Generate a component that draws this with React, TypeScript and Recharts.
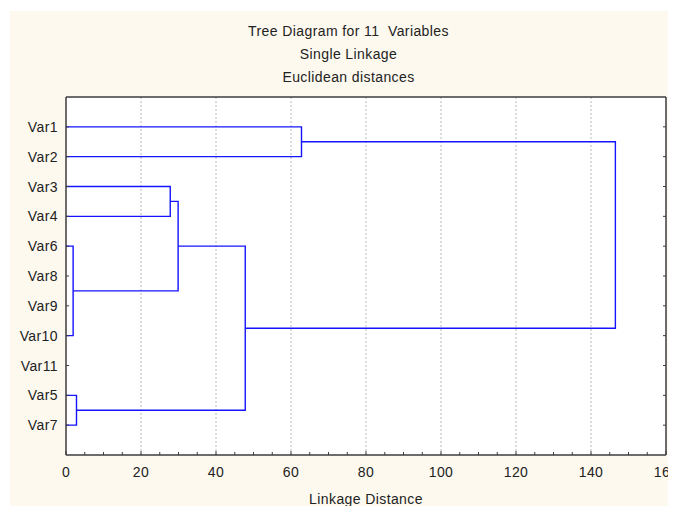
import React from 'react';
import {
  ComposedChart,
  Scatter,
  XAxis,
  YAxis,
  ReferenceLine,
  CartesianGrid,
} from 'recharts';

// leaf order as drawn top to bottom
const leaves = ['Var1', 'Var2', 'Var3', 'Var4', 'Var6', 'Var8', 'Var9', 'Var10', 'Var11', 'Var5', 'Var7'];

// merge steps: left child, right child, linkage distance (new clusters are C1, C2, ...)
const mergeLeft = ['Var1', 'Var3', 'Var6', 'C2', 'Var5', 'C4', 'C1'];
const mergeRight = ['Var2', 'Var4', 'Var10', 'C3', 'Var7', 'C5', 'C6'];
const mergeDistance = [62.8, 27.8, 1.9, 29.9, 2.8, 47.8, 146.5];

const xTicks = [0, 5, 10, 15, 20, 25, 30, 35, 40, 45, 50, 55, 60, 65, 70, 75, 80, 85, 90, 95, 100, 105, 110, 115, 120, 125, 130, 135, 140, 145, 150, 155, 160];
const xMajor = [0, 20, 40, 60, 80, 100, 120, 140, 160];

const titleLines = ['Tree Diagram for 11  Variables', 'Single Linkage', 'Euclidean distances'];

const FONT = '"Liberation Sans", Arial, sans-serif';
const TEXT = '#222';
const AXIS = '#3c3c3c';
const BLUE = '#1414ff';

// build the U shaped links of the tree from the merge list
const buildLinks = () => {
  const nodes: Record<string, { y: number; h: number }> = {};
  leaves.forEach((name, i) => {
    nodes[name] = { y: i, h: 0 };
  });
  return mergeLeft.map((left, i) => {
    const a = nodes[left];
    const b = nodes[mergeRight[i]];
    const d = mergeDistance[i];
    nodes[`C${i + 1}`] = { y: (a.y + b.y) / 2, h: d };
    return [
      { x: a.h, y: a.y },
      { x: d, y: a.y },
      { x: d, y: b.y },
      { x: b.h, y: b.y },
    ];
  });
};

const links = buildLinks();

const BottomTick = (props: any) => {
  const { x, y, payload } = props;
  const major = payload.value % 20 === 0;
  return (
    <g>
      <line x1={x} x2={x} y1={y} y2={y - (major ? 4 : 3)} stroke={AXIS} strokeWidth={1} />
      {major && (
        <text x={x} y={y + 22} textAnchor="middle" fontSize={14} fontFamily={FONT} fill={TEXT} letterSpacing={0.4}>
          {payload.value}
        </text>
      )}
    </g>
  );
};

const TopTick = (props: any) => {
  const { x, y, payload } = props;
  const major = payload.value % 20 === 0;
  return <line x1={x} x2={x} y1={y} y2={y + (major ? 4 : 3)} stroke={AXIS} strokeWidth={1} />;
};

const LeftTick = (props: any) => {
  const { x, y, payload } = props;
  return (
    <g>
      <line x1={x} x2={x + 3} y1={y} y2={y} stroke={AXIS} strokeWidth={1} />
      <text x={x - 8} y={y} dy="0.36em" textAnchor="end" fontSize={14} fontFamily={FONT} fill={TEXT} letterSpacing={0.4}>
        {leaves[payload.value]}
      </text>
    </g>
  );
};

const RightTick = (props: any) => {
  const { x, y } = props;
  return <line x1={x} x2={x - 3} y1={y} y2={y} stroke={AXIS} strokeWidth={1} />;
};

const yTicks = leaves.map((_, i) => i);

export default function App() {
  return (
    <div style={{ position: 'relative', marginLeft: 2, marginTop: 3, width: 666, height: 495, background: '#fdf9ef' }}>
      <div
        style={{
          position: 'absolute',
          top: 9,
          left: 0,
          width: 677,
          textAlign: 'center',
          fontFamily: FONT,
          fontSize: 14,
          lineHeight: '23px',
          color: TEXT,
          letterSpacing: 0.4,
          whiteSpace: 'pre',
        }}
      >
        {titleLines.map((t) => (
          <div key={t}>{t}</div>
        ))}
      </div>
      <ComposedChart width={666} height={495} margin={{ top: 85, right: 9, bottom: 0, left: 0 }} style={{ position: 'absolute', top: 0, left: 0 }}>
        <CartesianGrid xAxisId="bottom" yAxisId="left" horizontal={false} vertical={false} fill="#ffffff" fillOpacity={1} />
        <XAxis
          xAxisId="bottom"
          type="number"
          dataKey="x"
          domain={[0, 160]}
          allowDataOverflow
          ticks={xTicks}
          interval={0}
          height={51}
          tickSize={0}
          tickMargin={0}
          tick={<BottomTick />}
          tickLine={false}
          axisLine={{ stroke: AXIS, strokeWidth: 1.5 }}
          label={{ value: 'Linkage Distance', position: 'insideBottom', offset: 2, fontSize: 14, fontFamily: FONT, fill: TEXT, letterSpacing: 0.4 }}
        />
        <XAxis
          xAxisId="top"
          orientation="top"
          type="number"
          domain={[0, 160]}
          allowDataOverflow
          ticks={xTicks}
          interval={0}
          height={1}
          tickSize={0}
          tickMargin={0}
          tick={<TopTick />}
          tickLine={false}
          axisLine={{ stroke: AXIS, strokeWidth: 1.5 }}
        />
        <YAxis
          yAxisId="left"
          type="number"
          dataKey="y"
          domain={[-1, 11]}
          reversed
          allowDataOverflow
          ticks={yTicks}
          interval={0}
          width={56}
          tickSize={0}
          tickMargin={0}
          tick={<LeftTick />}
          tickLine={false}
          axisLine={{ stroke: AXIS, strokeWidth: 1.5 }}
        />
        <YAxis
          yAxisId="right"
          orientation="right"
          type="number"
          domain={[-1, 11]}
          reversed
          allowDataOverflow
          ticks={yTicks}
          interval={0}
          width={1}
          tickSize={0}
          tickMargin={0}
          tick={<RightTick />}
          tickLine={false}
          axisLine={{ stroke: AXIS, strokeWidth: 1.5 }}
        />
        {xMajor.slice(1, -1).map((v) => (
          <ReferenceLine key={v} x={v} xAxisId="bottom" yAxisId="left" stroke="#b8b8b8" strokeDasharray="2 2" strokeWidth={1} />
        ))}
        {links.map((pts, i) => (
          <Scatter
            key={i}
            data={pts}
            xAxisId="bottom"
            yAxisId="left"
            line={{ stroke: BLUE, strokeWidth: 1.4 }}
            lineType="joint"
            shape={() => <g />}
            isAnimationActive={false}
          />
        ))}
      </ComposedChart>
    </div>
  );
}
